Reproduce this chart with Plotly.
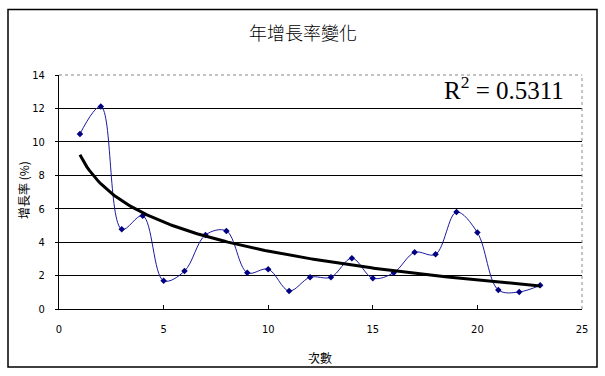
import numpy as np
import plotly.graph_objects as go

# ---- data ----
x_vals = list(range(1, 24))
growth = [10.47, 12.11, 4.77, 5.58, 1.69, 2.27, 4.43, 4.67, 2.17, 2.38, 1.08, 1.90,
          1.90, 3.04, 1.84, 2.17, 3.39, 3.27, 5.80, 4.57, 1.14, 1.02, 1.42]
y_ticks = [0, 2, 4, 6, 8, 10, 12, 14]
x_ticks = [0, 5, 10, 15, 20, 25]
title_text = "年增長率變化"
x_title = "次數"
y_title = "增長率 (%)"
r2_text = "R<sup>2</sup> = 0.5311"

# logarithmic trendline fitted to the data
xa = np.array(x_vals, dtype=float)
ya = np.array(growth, dtype=float)
a, b = np.polyfit(np.log(xa), ya, 1)
xt = np.linspace(xa.min(), xa.max(), 200)
yt = a * np.log(xt) + b

W, H = 605, 376
L, R, T, B = 59, 23, 75, 67
pw, ph = W - L - R, H - T - B

def px(xp):
    return (xp - L) / pw

def py(yp):
    return (H - B - yp) / ph

tick_font = dict(family="Liberation Sans Narrow, DejaVu Sans Condensed, Liberation Sans, Arial",
                 size=11, color="black")
cjk = "Noto Sans CJK TC, Noto Sans CJK SC, sans-serif"

fig = go.Figure()
fig.add_trace(go.Scatter(
    x=x_vals, y=growth, mode="lines+markers",
    line=dict(color="#1a1aa0", width=1, shape="spline", smoothing=1),
    marker=dict(symbol="diamond", size=5, color="#000080"),
    showlegend=False, hoverinfo="x+y"))
fig.add_trace(go.Scatter(
    x=xt, y=yt, mode="lines", yaxis="y2",
    line=dict(color="black", width=3),
    showlegend=False, hoverinfo="skip"))

fig.update_layout(
    width=W, height=H,
    margin=dict(l=L, r=R, t=T, b=B),
    paper_bgcolor="white", plot_bgcolor="white",
    title=dict(text=title_text, x=303 / W, xanchor="center", y=1 - 34 / H, yanchor="middle",
               font=dict(family=cjk, size=18, color="black", weight=300)),
    xaxis=dict(range=[0, 25], tickvals=x_ticks, showgrid=False, zeroline=False,
               showline=True, linecolor="black", linewidth=1,
               ticks="inside", ticklen=4, tickcolor="black",
               tickfont=tick_font, ticklabelstandoff=10),
    yaxis=dict(range=[0, 14], tickvals=y_ticks, showgrid=False, zeroline=False,
               showline=True, linecolor="black", linewidth=1,
               ticks="outside", ticklen=3, tickcolor="black",
               tickfont=tick_font, ticklabelstandoff=8),
    yaxis2=dict(range=[0, 14], overlaying="y", tickvals=[2, 4, 6, 8, 10, 12],
                showgrid=True, gridcolor="black", gridwidth=1,
                showticklabels=False, zeroline=False, showline=False),
    shapes=[
        dict(type="line", xref="paper", yref="paper", x0=0, x1=1, y0=1, y1=1,
             line=dict(color="#888888", width=1, dash="dot"), layer="above"),
        dict(type="line", xref="paper", yref="paper", x0=1, x1=1, y0=0, y1=1,
             line=dict(color="#888888", width=1, dash="dot"), layer="above"),
        dict(type="rect", xref="paper", yref="paper",
             x0=px(8), x1=px(597), y0=py(367), y1=py(9.5),
             line=dict(color="black", width=1.5), layer="above"),
    ],
    annotations=[
        dict(text=r2_text, xref="paper", yref="paper", x=px(504), y=py(88),
             xanchor="center", yanchor="middle", showarrow=False,
             font=dict(family="Liberation Serif, Times New Roman, serif", size=25, color="black")),
        dict(text=x_title, xref="paper", yref="paper", x=px(320), y=py(357),
             xanchor="center", yanchor="middle", showarrow=False,
             font=dict(family=cjk, size=12, color="black")),
        dict(text=y_title, xref="paper", yref="paper", x=px(23), y=py(190),
             xanchor="center", yanchor="middle", showarrow=False, textangle=-90,
             font=dict(family=cjk, size=12, color="black")),
    ],
)

fig.write_html("out.html", config={"displayModeBar": False},
               post_script="document.body.style.margin='0';document.body.style.padding='0';"
                           "document.body.style.overflow='hidden';")
